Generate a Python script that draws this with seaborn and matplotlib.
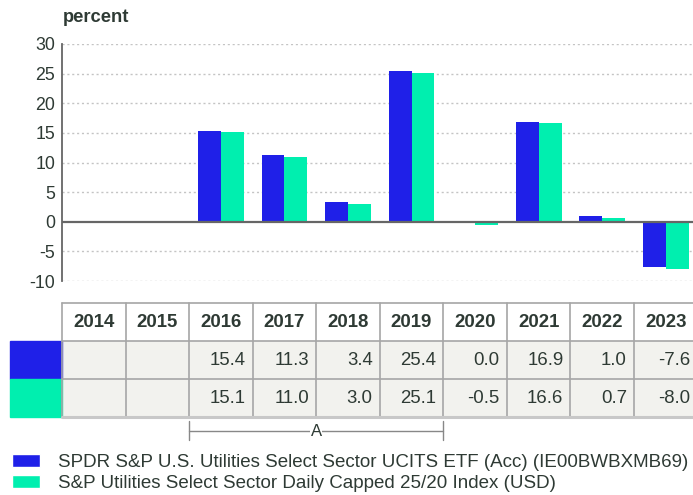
import numpy as np
import pandas as pd
import matplotlib
matplotlib.use("Agg")
import matplotlib.pyplot as plt
from matplotlib.patches import Patch, Rectangle
import seaborn as sns

# data
years = ["2014", "2015", "2016", "2017", "2018", "2019", "2020", "2021", "2022", "2023"]
fund_returns = [np.nan, np.nan, 15.4, 11.3, 3.4, 25.4, 0.0, 16.9, 1.0, -7.6]
index_returns = [np.nan, np.nan, 15.1, 11.0, 3.0, 25.1, -0.5, 16.6, 0.7, -8.0]
series_names = [
    "SPDR S&P U.S. Utilities Select Sector UCITS ETF (Acc) (IE00BWBXMB69)",
    "S&P Utilities Select Sector Daily Capped 25/20 Index (USD)",
]
y_ticks = [-10, -5, 0, 5, 10, 15, 20, 25, 30]
bracket_label = "A"
bracket_years = ("2016", "2019")

BLUE = "#1f20e8"
GREEN = "#00efaf"
TEXT = "#2e3a34"
GRID = "#c4c4c4"

sns.set_style("white")
plt.rcParams["font.family"] = ["Liberation Sans", "DejaVu Sans"]
plt.rcParams["axes.unicode_minus"] = False

df = pd.DataFrame({"year": years, series_names[0]: fund_returns, series_names[1]: index_returns})
long_df = df.melt(id_vars="year", var_name="series", value_name="value").dropna()

W, H = 693, 495
fig = plt.figure(figsize=(W / 100, H / 100), dpi=100)

# main bar chart
ax_left, ax_right, ax_top, ax_bot = 62, 697.5, 44, 281
ax = fig.add_axes([ax_left / W, 1 - ax_bot / H, (ax_right - ax_left) / W, (ax_bot - ax_top) / H])
sns.barplot(data=long_df, x="year", y="value", hue="series", order=years,
            hue_order=series_names, palette=[BLUE, GREEN], width=0.72,
            saturation=1, errorbar=None, linewidth=0, legend=False, ax=ax)
ax.set_xlim(-0.5, len(years) - 0.5)
ax.set_ylim(-10, 30)
ax.set_yticks(y_ticks)
ax.set_xticks([])
ax.set_xlabel("")
ax.set_ylabel("")
for t in y_ticks:
    if t != 0:
        ax.axhline(t, color=GRID, lw=1, ls=(0, (1.5, 2)), zorder=0)
ax.axhline(0, color="#666666", lw=1.6, zorder=3)
for s in ["top", "right", "bottom"]:
    ax.spines[s].set_visible(False)
ax.spines["left"].set_color("#666666")
ax.spines["left"].set_linewidth(1.3)
ax.tick_params(axis="y", length=0, pad=5, labelsize=12.8, labelcolor=TEXT)
fig.text(63 / W, 1 - 18 / H, "percent", fontsize=13.2, fontweight="bold", color=TEXT, va="center")

# data table below chart
tb_top, tb_bot = 303, 417
axt = fig.add_axes([ax_left / W, 1 - tb_bot / H, (ax_right - ax_left) / W, (tb_bot - tb_top) / H])
axt.set_xlim(-0.5, len(years) - 0.5)
axt.set_ylim(3, 0)
axt.axis("off")
axt.add_patch(Rectangle((-0.5, 1), len(years), 2, color="#f2f2ee", zorder=0))
sw = 52 / 63.5
axt.add_patch(Rectangle((-0.5 - sw, 1), sw, 1, color=BLUE, clip_on=False))
axt.add_patch(Rectangle((-0.5 - sw, 2), sw, 1, color=GREEN, clip_on=False))
for i in range(len(years) + 1):
    axt.plot([i - 0.5, i - 0.5], [0, 3], color="#a6a6a6", lw=1.2, clip_on=False)
for r in range(4):
    axt.plot([-0.5, len(years) - 0.5], [r, r], color="#a6a6a6" if r < 3 else "#c8c8c8",
             lw=1.2 if r < 3 else 2.2, clip_on=False)
for i, yr in enumerate(years):
    axt.text(i, 0.52, yr, ha="center", va="center", fontsize=13.4, fontweight="bold",
             color=TEXT)
    for r, vals in enumerate([fund_returns, index_returns], start=1):
        v = vals[i]
        if not np.isnan(v):
            axt.text(i + 0.39, r + 0.52, f"{v:.1f}", ha="right", va="center",
                     fontsize=13.4, color=TEXT)

# bracket under the table
b0 = years.index(bracket_years[0]) - 0.5
b1 = years.index(bracket_years[1]) + 0.5
yb = 3.37
axt.plot([b0, b1], [yb, yb], color="#888888", lw=1, clip_on=False)
for xb in (b0, b1):
    axt.plot([xb, xb], [3.1, 3.6], color="#888888", lw=1, clip_on=False)
axt.text((b0 + b1) / 2, yb, bracket_label, ha="center", va="center", fontsize=12,
         color=TEXT, bbox=dict(facecolor="white", edgecolor="none", pad=0.5))

# legend
handles = [Patch(facecolor=BLUE), Patch(facecolor=GREEN)]
leg = fig.legend(handles, series_names, loc="upper left", bbox_to_anchor=(12.5 / W, 1 - 454 / H),
                 frameon=False, fontsize=13.5, handlelength=1.45, handleheight=0.7,
                 handletextpad=1.0, labelspacing=0.2, borderaxespad=0, borderpad=0)
for t in leg.get_texts():
    t.set_color(TEXT)

fig.savefig("out.png", dpi=100)
